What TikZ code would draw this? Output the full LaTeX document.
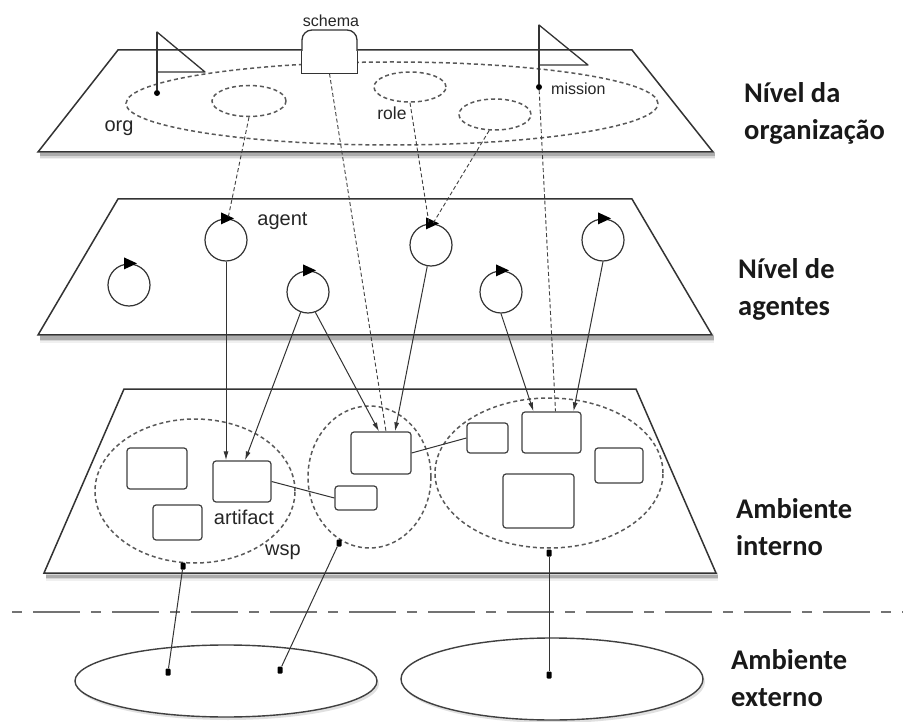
\documentclass[tikz,border=0pt]{standalone}
\usepackage{fontspec}
\setmainfont{Liberation Sans}
\newfontfamily\levelfont{Carlito}
\usetikzlibrary{shapes.geometric,arrows.meta}
\begin{document}
\begin{tikzpicture}[x=1pt,y=-1pt,
  plane/.style={draw=black!80,line width=1.5pt,fill=white,line join=miter},
  zone/.style={ellipse,draw=black!65,line width=1.5pt,dash pattern=on 4pt off 3pt,inner sep=0pt},
  artbox/.style={draw=black!75,line width=1.2pt,rounded corners=3pt,fill=white,inner sep=0pt},
  agentnode/.style={circle,draw=black!80,line width=1.2pt,fill=white,minimum size=42pt,inner sep=0pt},
  pin/.style={circle,fill=black,inner sep=0pt,minimum size=6pt},
  port/.style={rectangle,rounded corners=1pt,fill=black,inner sep=0pt,minimum width=5pt,minimum height=7pt},
  small/.style={font=\fontsize{20}{24}\selectfont,text=black!85,inner sep=0pt},
  tiny/.style={font=\fontsize{16}{19}\selectfont,text=black!85,inner sep=0pt},
  level/.style={font=\levelfont\bfseries\fontsize{28.5}{37}\selectfont,align=left,anchor=north west,inner sep=0pt,text=black!90},
  link/.style={draw=black!80,line width=1pt,-{Latex[length=9pt,width=5pt]}},
  tie/.style={draw=black!80,line width=1pt},
  trace/.style={draw=black!75,line width=0.9pt,dash pattern=on 4pt off 2.5pt},
  extworld/.style={ellipse,draw=black!75,line width=1.4pt,fill=white,inner sep=0pt},
]
\path[use as bounding box,fill=white] (0,0) rectangle (903,722);

% ---------- planes with soft shadows along the front edge ----------
\foreach \yb/\xl/\xr in {152/38/713, 335/38/712, 573/44/716}{
  \foreach \w/\o in {9/0.06,6/0.10,3/0.2}
    \draw[line width=\w pt,black,opacity=\o] (\xl+2,\yb+3) -- (\xr+2,\yb+3);
}
\draw[plane] (118,50) -- (632,50) -- (713,152) -- (38,152) -- cycle;
\draw[plane] (118,199) -- (632,199) -- (712,335) -- (38,335) -- cycle;
\draw[plane] (124,389) -- (636,389) -- (716,573) -- (44,573) -- cycle;

% ---------- organisation level ----------
\node[zone,minimum width=532pt,minimum height=83pt] (org) at (392,103.5) {};
\node[zone,minimum width=74pt,minimum height=31pt] (roleA) at (249,101) {};
\node[zone,minimum width=72pt,minimum height=30pt] (roleB) at (410,87) {};
\node[zone,minimum width=72pt,minimum height=31pt] (roleC) at (495,114.5) {};

\draw[line width=1.3pt,draw=black!80,line join=round] (157,32) -- (205,72) -- (157,72) -- cycle;
\draw[line width=1.3pt,draw=black!80,line join=round] (539,25) -- (588,65) -- (539,65) -- cycle;
\node[pin] (orgpin) at (157,93) {};
\node[pin] (missionpin) at (539,87) {};
\draw[line width=1.2pt,draw=black!80] (157,32) -- (orgpin);
\draw[line width=1.2pt,draw=black!80] (539,25) -- (missionpin);

\node[draw=black!80,line width=1.3pt,fill=white,rounded corners=10pt,minimum width=55pt,minimum height=43pt,inner sep=0pt] (schema) at (329.5,51.5) {};
\draw[draw=black!80,line width=1.3pt,fill=white] (schema.west) -- (schema.south west) -- (schema.south east) -- (schema.east);

\node[tiny] (schemalbl) at (331,21) {schema};
\node[small] (orglbl) at (119,128) {org};
\node[small,font=\fontsize{17.5}{21}\selectfont] (rolelbl) at (392,113) {role};
\node[tiny,anchor=west] (missionlbl) at (551,89) {mission};

% ---------- agent level ----------
\foreach \n/\x/\y in {A1/226/240, A2/129/285, A3/308/292, A4/431/245, A5/501/292, A6/603/240}{
  \node[agentnode] (\n) at (\x,\y) {};
  \fill[black] ([xshift=-5pt,yshift=6pt]\n.north) -- ++(0,12) -- ++(13,-6) -- cycle;
}
\node[small] (agentlbl) at (282.5,221) {agent};

% ---------- internal environment ----------
\node[zone,minimum width=200pt,minimum height=144pt] (wspL) at (195,491) {};
\node[zone,minimum width=123pt,minimum height=142pt] (wspM) at (369.5,477) {};
\node[zone,minimum width=228pt,minimum height=150pt] (wspR) at (549,473) {};

\node[artbox,minimum width=60pt,minimum height=41pt] (B1) at (157,468.5) {};
\node[artbox,minimum width=58pt,minimum height=41pt] (B2) at (242,481.5) {};
\node[artbox,minimum width=49pt,minimum height=35pt] (B3) at (177.5,522.5) {};
\node[artbox,minimum width=60pt,minimum height=42pt] (B4) at (381,453) {};
\node[artbox,minimum width=42pt,minimum height=24pt] (B5) at (356,498) {};
\node[artbox,minimum width=41pt,minimum height=30pt] (B6) at (487.5,438) {};
\node[artbox,minimum width=59pt,minimum height=41pt] (B7) at (551.5,432.5) {};
\node[artbox,minimum width=48pt,minimum height=35pt] (B8) at (619,465.5) {};
\node[artbox,minimum width=71pt,minimum height=54pt] (B9) at (538.5,501) {};

\node[small] (artifactlbl) at (244,517) {artifact};
\node[small] (wsplbl) at (283,552) {wsp};

\node[port] (pL) at (183,566) {};
\node[port] (pM) at (339,543) {};
\node[port] (pR) at (549,553) {};

% ---------- boundary and external environment ----------
\draw[black!55,line width=2.6pt,dash pattern=on 10pt off 11pt on 47pt off 11pt] (12,612) -- (903,612);

\fill[black,opacity=0.12] (228,684) ellipse[x radius=151pt,y radius=36pt];
\fill[black,opacity=0.12] (554,682) ellipse[x radius=151pt,y radius=41pt];
\node[extworld,minimum width=302pt,minimum height=72pt] (extL) at (226,681) {};
\node[extworld,minimum width=302pt,minimum height=82pt] (extR) at (552,679) {};
\node[port] (e1) at (168,672) {};
\node[port] (e2) at (280,670) {};
\node[port] (e3) at (549,675) {};

% ---------- level captions ----------
\node[level] (lvorg) at (744,82) {Nível da\\organização};
\node[level] (lvag) at (738,258) {Nível de\\agentes};
\node[level] (lvin) at (736,498) {Ambiente\\interno};
\node[level] (lvex) at (731,649) {Ambiente\\externo};

% ---------- connectors ----------
\draw[trace] (roleA.south) -- ([xshift=2pt]A1.north);
\draw[trace] (roleB.south) -- ([xshift=-2pt]A4.north);
\draw[trace] (roleC.250) -- ([xshift=2pt]A4.north);
\draw[trace] (schema.south) -- ([xshift=5pt]B4.north);
\draw[trace] (missionpin) -- ([xshift=4pt]B7.north);

\draw[link] (A1.south) -- (A1.south |- B2.north);
\draw[link] (A3.250) -- ([xshift=3pt]B2.north);
\draw[link] (A3.290) -- ([xshift=-2pt]B4.north);
\draw[link] (A4.260) -- ([xshift=14pt]B4.north);
\draw[link] (A5.south) -- ([xshift=-18pt]B7.north);
\draw[link] (A6.south) -- ([xshift=22pt]B7.north);

\draw[tie] (B2.east) -- (B5.west);
\draw[tie] (B4.east) -- (B6.west);

\draw[tie] (pL) -- (e1);
\draw[tie] (pM) -- (e2);
\draw[tie] (pR) -- (e3);
\end{tikzpicture}
\end{document}
